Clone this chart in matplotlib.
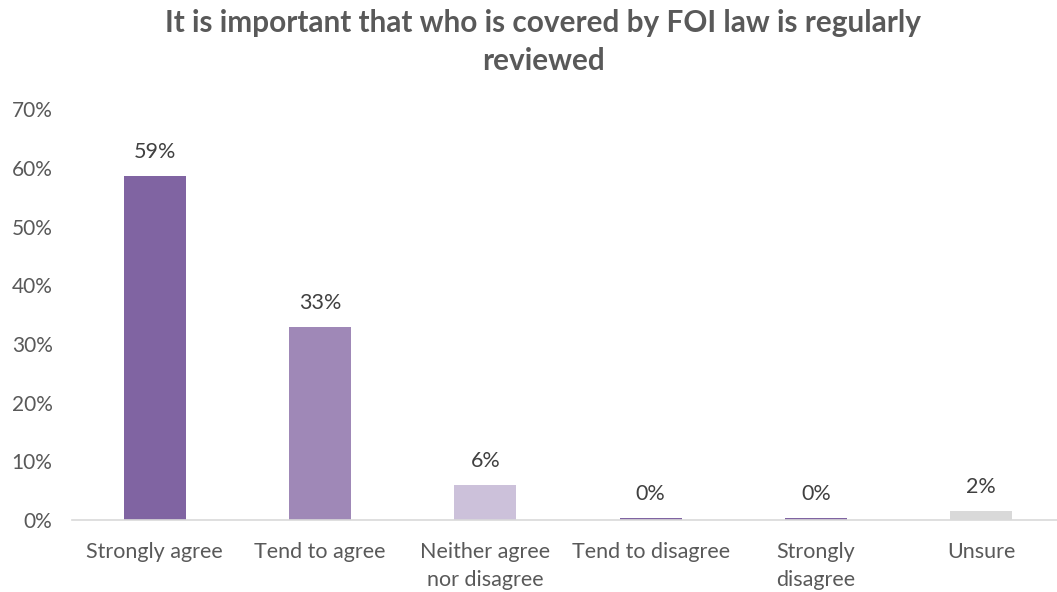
import matplotlib.pyplot as plt
from matplotlib.ticker import FuncFormatter, MultipleLocator

plt.rcParams["font.family"] = ["Lato", "DejaVu Sans"]

categories = [
    "Strongly agree",
    "Tend to agree",
    "Neither agree\nnor disagree",
    "Tend to disagree",
    "Strongly\ndisagree",
    "Unsure",
]
shares = [58.6, 32.9, 6.0, 0.3, 0.3, 1.6]
bar_colors = ["#8064A2", "#9F88B7", "#CCC1DA", "#8064A2", "#8064A2", "#D9D9D9"]
title = "It is important that who is covered by FOI law is regularly\nreviewed"

text_grey = "#595959"

fig = plt.figure(figsize=(10.57, 5.92), dpi=100)
ax = fig.add_axes([72 / 1057, 72 / 592, 992 / 1057, 410.7 / 592])

x = range(len(categories))
ax.bar(x, shares, width=0.375, color=bar_colors, zorder=2)

for xi, v in zip(x, shares):
    ax.annotate(f"{v:.0f}%", (xi, v), xytext=(0, 10), textcoords="offset points",
                ha="center", va="bottom", fontsize=15.5, color="#404040")

ax.set_xlim(-0.5, len(categories) - 0.5)
ax.set_ylim(0, 70)
ax.yaxis.set_major_locator(MultipleLocator(10))
ax.yaxis.set_major_formatter(FuncFormatter(lambda v, _: f"{v:.0f}%"))

ax.set_xticks(list(x))
ax.set_xticklabels(categories, fontsize=15.5, color=text_grey, linespacing=1.5)
ax.tick_params(axis="y", labelsize=15, labelcolor=text_grey, length=0, pad=14)
ax.tick_params(axis="x", length=0, pad=16)

for side in ("top", "right", "left"):
    ax.spines[side].set_visible(False)
ax.spines["bottom"].set_color("#D9D9D9")
ax.spines["bottom"].set_linewidth(1.2)

fig.text(543 / 1057, 1 - 42 / 592, title, ha="center", va="center",
         fontsize=21.4, fontweight="bold", color=text_grey, linespacing=1.45)

fig.savefig("out.png", dpi=100)
